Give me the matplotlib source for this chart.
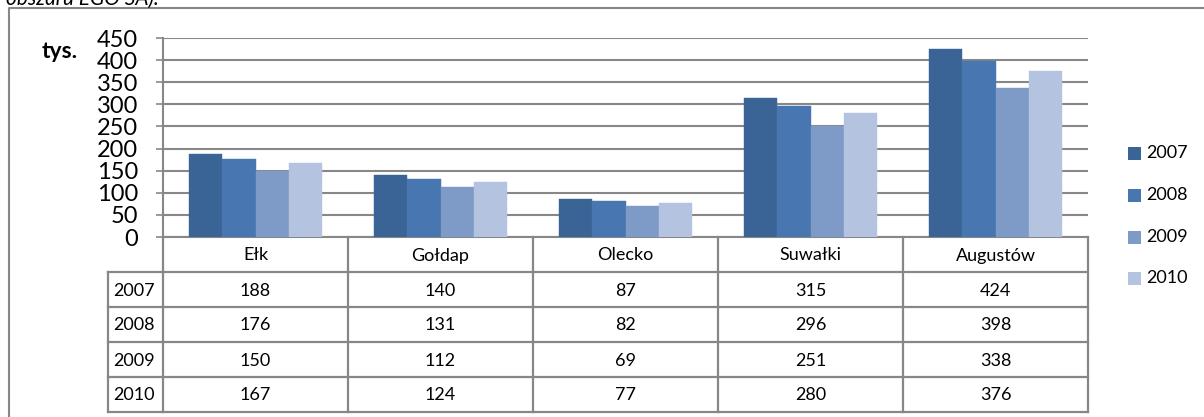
#!/usr/bin/env python3
"""
Grouped bar chart with data table (Excel style) - values in thousands.
"""

import matplotlib
matplotlib.use("Agg")
import matplotlib.pyplot as plt
import numpy as np
from matplotlib.patches import Rectangle

plt.rcParams["font.family"] = ["Lato", "DejaVu Sans"]

categories = ["Ełk", "Gołdap", "Olecko", "Suwałki", "Augustów"]
years = ["2007", "2008", "2009", "2010"]
values_2007 = [188, 140, 87, 315, 424]
values_2008 = [176, 131, 82, 296, 398]
values_2009 = [150, 112, 69, 251, 338]
values_2010 = [167, 124, 77, 280, 376]
series = [values_2007, values_2008, values_2009, values_2010]
colors = ["#3B6496", "#4776B0", "#7E9BC7", "#B4C3DF"]
yticks = [0, 50, 100, 150, 200, 250, 300, 350, 400, 450]

W, H = 1204, 417
GRID = "#878787"

fig = plt.figure(figsize=(W / 100, H / 100), dpi=100)

# pixel-space overlay for frame, table and legend
ov = fig.add_axes([0, 0, 1, 1])
ov.set_xlim(0, W)
ov.set_ylim(H, 0)
ov.axis("off")

# plot area in pixels
x0, x1, y_top, y0 = 163, 1088, 38, 237
ax = fig.add_axes([x0 / W, 1 - y0 / H, (x1 - x0) / W, (y0 - y_top) / H])

n = len(categories)
x = np.arange(n)
bw = 0.18
for i, (vals, col) in enumerate(zip(series, colors)):
    ax.bar(x + (i - 1.5) * bw, vals, width=bw, color=col,
           edgecolor=col, linewidth=0.3, zorder=3)

ax.set_xlim(-0.5, n - 0.5)
ax.set_ylim(0, 450)
ax.set_yticks(yticks)
ax.set_yticklabels([str(v) for v in yticks], fontsize=17)
ax.set_xticks([])
ax.yaxis.grid(True, color=GRID, linewidth=1.5, zorder=0)
ax.tick_params(axis="y", length=5, width=1.2, color=GRID, pad=13)
for side in ("top", "right"):
    ax.spines[side].set_visible(False)
ax.spines["left"].set_color(GRID)
ax.spines["left"].set_linewidth(1.5)
ax.spines["bottom"].set_color(GRID)
ax.spines["bottom"].set_linewidth(1.5)
ax.set_facecolor("none")

ov.text(42, 51, "tys.", fontsize=16.5, fontweight="bold", ha="left", va="center")

# cut-off caption on top
ov.text(6, 5, "obszaru EGO SA).", fontsize=15, style="italic",
        ha="left", va="baseline")

# outer chart frame
ov.plot([9, 9, W + 5], [H + 5, 8, 8], color=GRID, linewidth=1.5,
        clip_on=False)

# data table
col_w = (x1 - x0) / n
row_top = 272
row_h = 35
lbl_x0 = 108
tbl_bottom = row_top + row_h * len(years)
lw = 1.6
# verticals
ov.plot([x0, x0], [y0, tbl_bottom], color=GRID, linewidth=lw)
for j in range(1, n + 1):
    xx = x0 + j * col_w
    ov.plot([xx, xx], [y0, tbl_bottom], color=GRID, linewidth=lw)
ov.plot([lbl_x0, lbl_x0], [row_top, tbl_bottom], color=GRID, linewidth=lw)
# horizontals
for r in range(len(years) + 1):
    yy = row_top + r * row_h
    ov.plot([lbl_x0, x1], [yy, yy], color=GRID, linewidth=lw)

for j, cat in enumerate(categories):
    ov.text(x0 + (j + 0.5) * col_w, (y0 + row_top) / 2 + 1, cat,
            fontsize=13, ha="center", va="center")
for r, (yr, vals) in enumerate(zip(years, series)):
    yc = row_top + (r + 0.5) * row_h + 1
    ov.text(lbl_x0 + 5, yc, yr, fontsize=13, ha="left", va="center")
    for j, v in enumerate(vals):
        ov.text(x0 + (j + 0.5) * col_w, yc, str(v), fontsize=13,
                ha="center", va="center")

# legend
leg_y = [153, 195, 237, 278]
for yr, col, yy in zip(years, colors, leg_y):
    ov.add_patch(Rectangle((1128, yy - 6.5), 13, 13, facecolor=col,
                           edgecolor="none"))
    ov.text(1146, yy, yr, fontsize=13, ha="left", va="center")

fig.savefig("out.png", dpi=100)
